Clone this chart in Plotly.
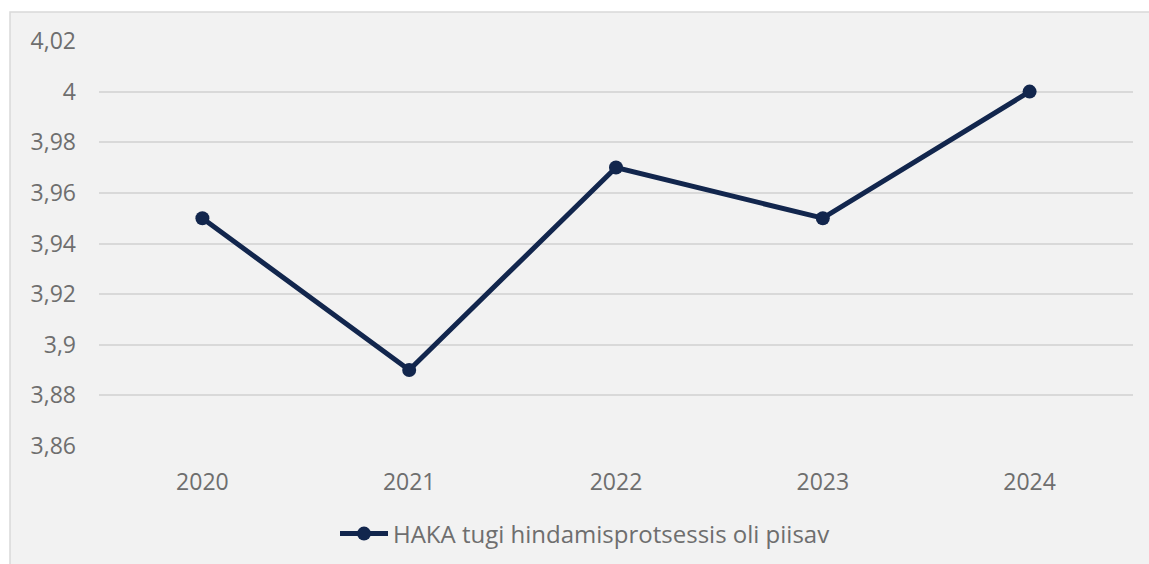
import plotly.graph_objects as go

years = ["2020", "2021", "2022", "2023", "2024"]
values = [3.95, 3.89, 3.97, 3.95, 4.00]
series_name = "HAKA tugi hindamisprotsessis oli piisav"

navy = "#12264d"
fig = go.Figure()
fig.add_trace(go.Scatter(
    x=years, y=values, name=series_name, mode="lines+markers",
    line=dict(color=navy, width=5),
    marker=dict(color=navy, size=14),
))

W, H = 1149, 564
L, R, T, B = 99, 1133, 41, 446
pw, ph = R - L, B - T

def px_x(p):
    return (p - L) / pw

def px_y(p):
    return (B - p) / ph

fig.add_shape(type="rect", xref="paper", yref="paper",
              x0=px_x(10), x1=px_x(1160), y0=px_y(580), y1=px_y(12),
              fillcolor="#f2f2f2", line=dict(color="#d9d9d9", width=1.5), layer="below")

font = "Open Sans, sans-serif"
txt = "#6e6e6e"
fig.update_layout(
    width=W, height=H,
    margin=dict(l=L, r=W - R, t=T, b=H - B, autoexpand=False),
    paper_bgcolor="white", plot_bgcolor="rgba(0,0,0,0)",
    separators=", ",
    font=dict(family=font, size=23, color=txt),
    showlegend=True,
    legend=dict(orientation="h", xref="container", x=335 / W, xanchor="left",
                yref="container", y=1 - 534 / H, yanchor="middle",
                itemwidth=48,
                bgcolor="rgba(0,0,0,0)", font=dict(size=24, color=txt)),
    xaxis=dict(showgrid=False, showline=False, zeroline=False, ticks="",
               ticklabelstandoff=20, range=[-0.5, 4.5]),
    yaxis=dict(range=[3.86, 4.02], tick0=3.86, dtick=0.02, showgrid=True,
               gridcolor="#d9d9d9", gridwidth=1.5, zeroline=False, showline=False,
               ticks="", ticklabelstandoff=22),
)
fig.write_html("out.html", config={"displayModeBar": False},
               post_script="document.body.style.margin='0';document.body.style.overflow='hidden';")
